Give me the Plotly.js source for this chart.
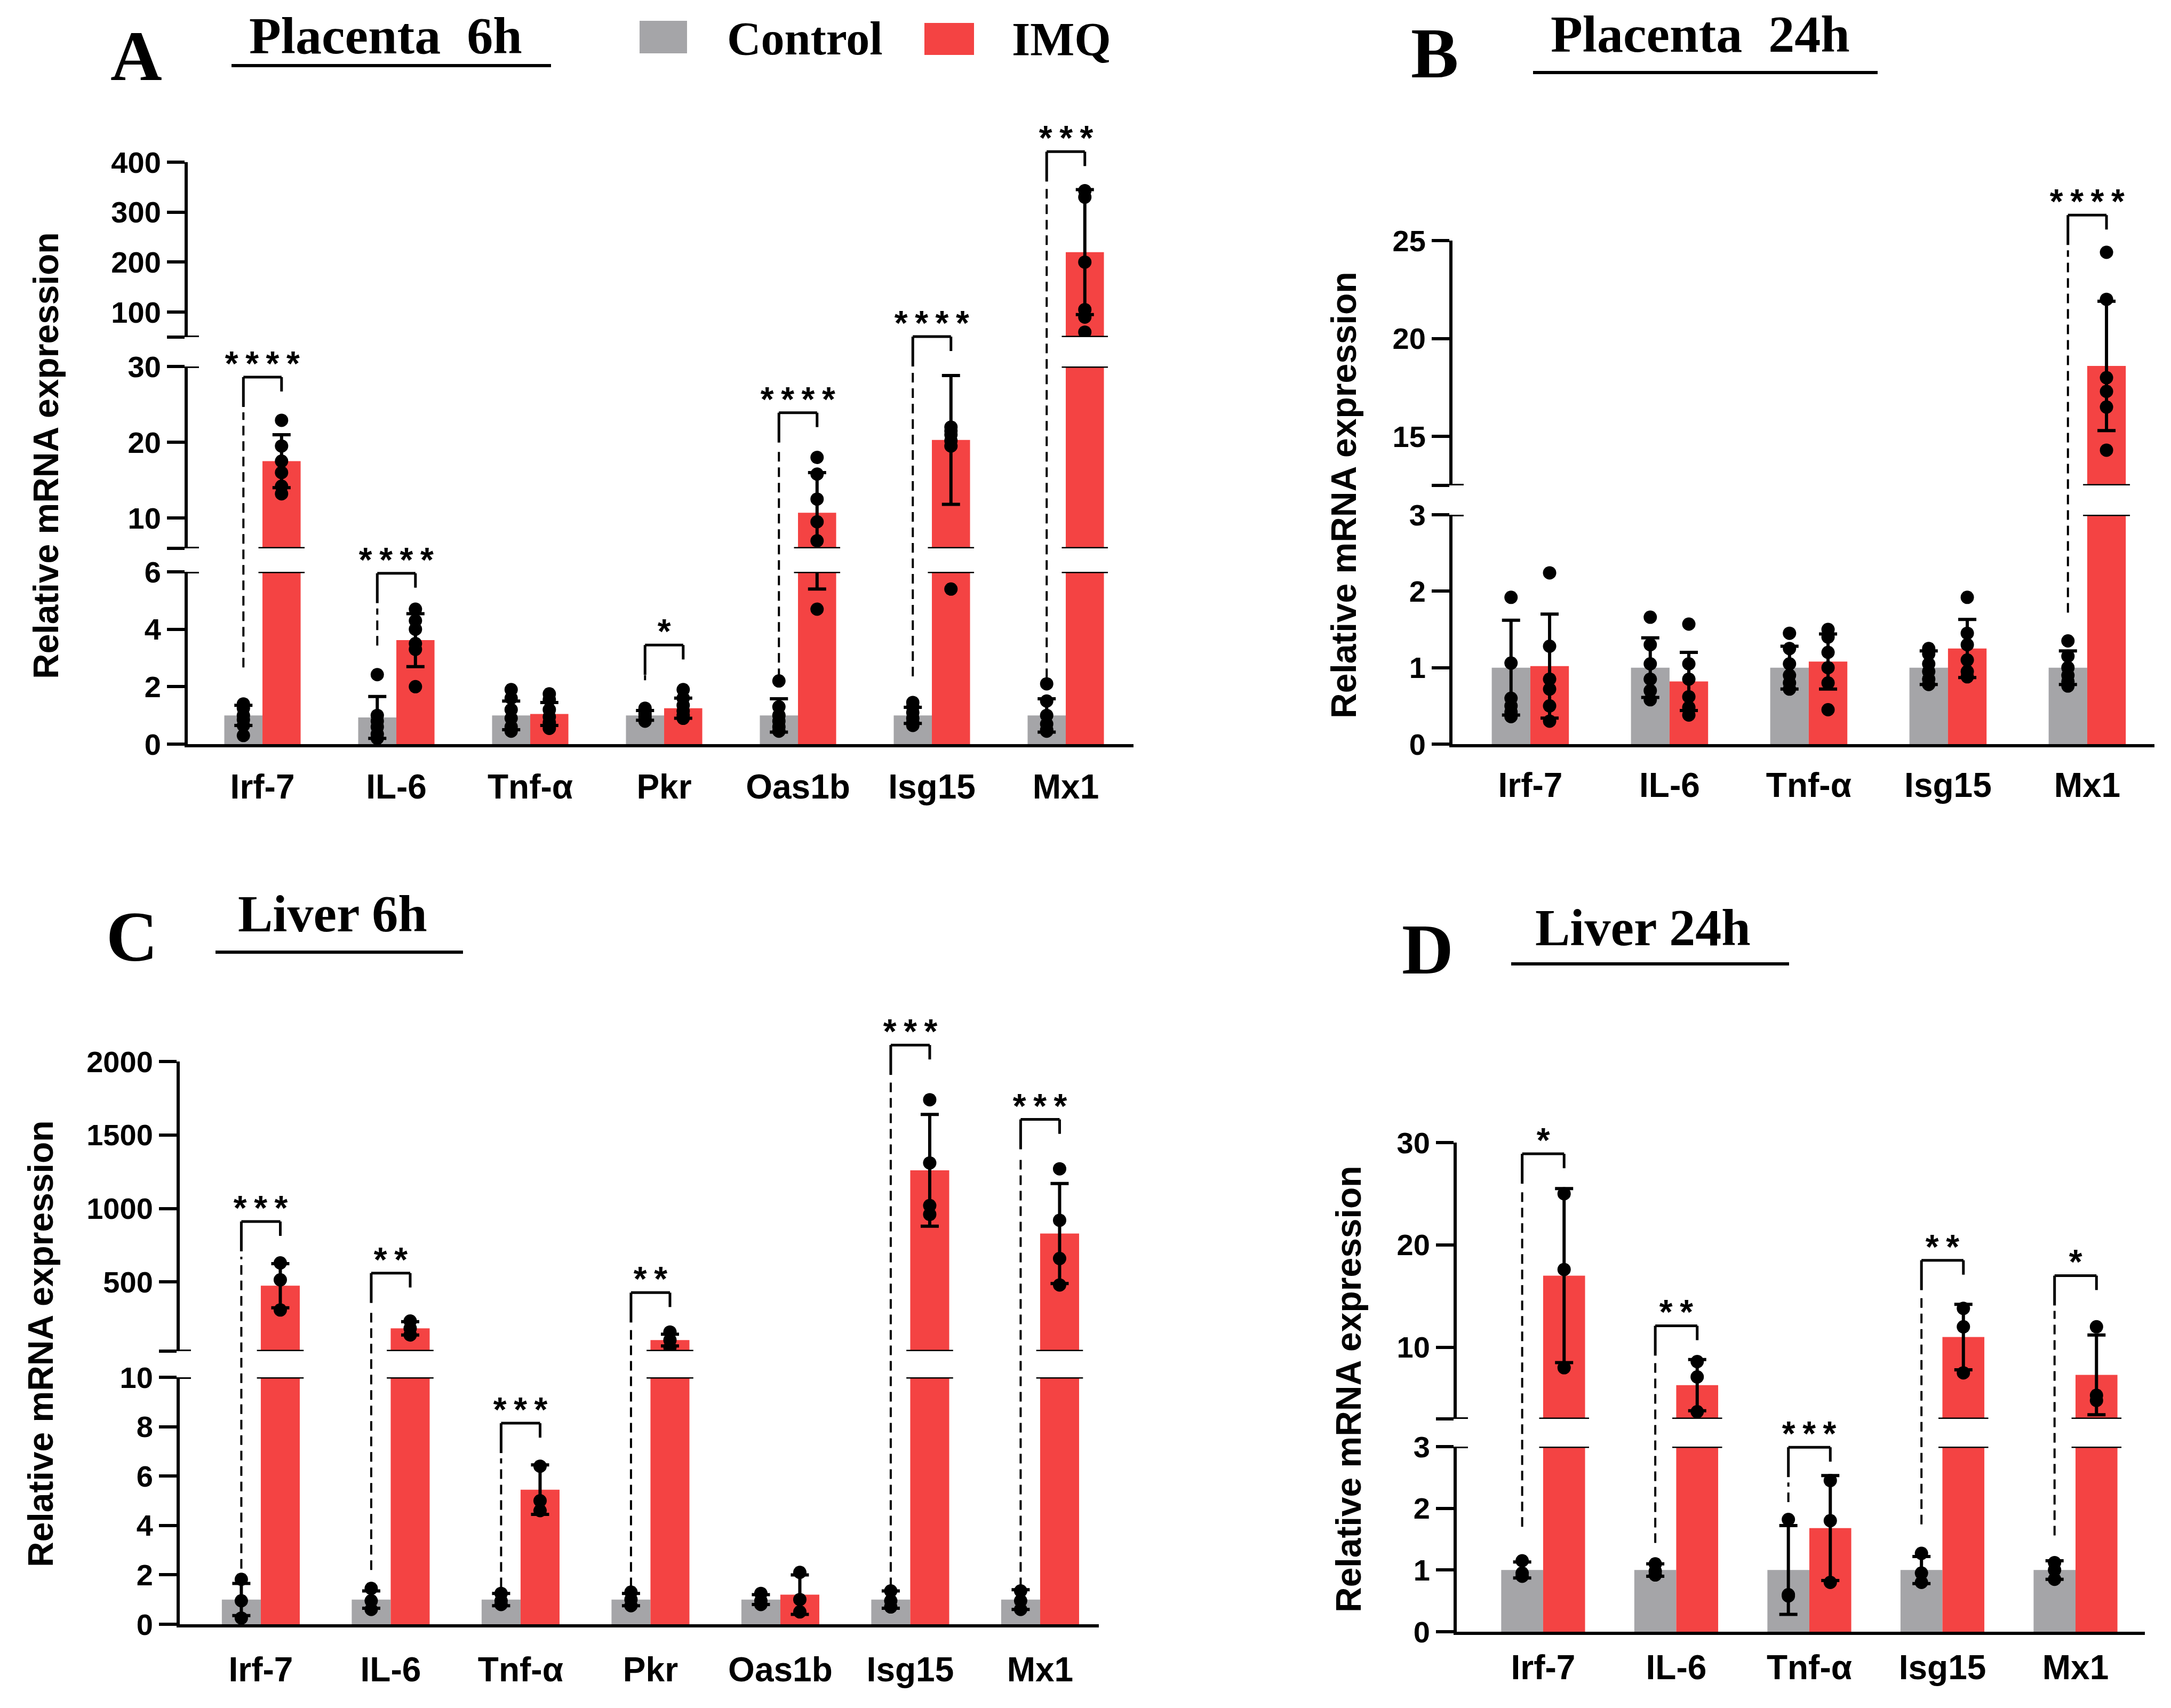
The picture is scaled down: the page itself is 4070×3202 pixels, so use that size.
<!DOCTYPE html>
<html><head><meta charset="utf-8">
<script src="https://cdn.plot.ly/plotly-3.0.1.min.js"></script>
<style>html,body{margin:0;padding:0;background:#fff}</style>
</head><body>
<div id="chart" style="width:4070px;height:3202px"></div>
<script>
// ---------------- DATA ----------------
const catsA = ['Irf-7','IL-6','Tnf-α','Pkr','Oas1b','Isg15','Mx1'];
const catsB = ['Irf-7','IL-6','Tnf-α','Isg15','Mx1'];
const catsC = ['Irf-7','IL-6','Tnf-α','Pkr','Oas1b','Isg15','Mx1'];
const catsD = ['Irf-7','IL-6','Tnf-α','Isg15','Mx1'];

// Panel A: Placenta 6h
const A_ctrlMean = [1.0, 0.93, 1.0, 1.0, 1.0, 1.0, 1.0];
const A_ctrlSD   = [0.35, 0.73, 0.5, 0.17, 0.58, 0.28, 0.58];
const A_ctrlDots = [[1.4,1.25,1.0,0.85,0.65,0.3],[2.42,1.0,0.8,0.6,0.35,0.2],[1.9,1.6,1.2,0.9,0.6,0.45],
                    [1.25,1.15,1.05,0.95,0.85,0.8],[2.2,1.3,1.0,0.8,0.6,0.45],[1.45,1.3,1.1,0.9,0.75,0.65],
                    [2.1,1.5,1.0,0.7,0.5,0.45]];
const A_imqMean  = [17.5, 3.62, 1.05, 1.25, 10.7, 20.3, 220];
const A_imqSD    = [3.5, 0.92, 0.4, 0.35, 5.3, 8.5, 125];
const A_imqDots  = [[22.9,19.5,17.5,16.0,14.2,13.2],[4.7,4.3,4.0,3.5,3.3,2.0],[1.75,1.55,1.2,0.95,0.75,0.55],
                    [1.9,1.6,1.35,1.15,1.0,0.9],[18,15.8,12.5,9.5,7.0,4.7],[22.0,21.5,21.0,20.2,19.5,5.4],
                    [343,330,200,105,90,60]];
const A_sig      = ['****','****','','*','****','****','***'];
const A_level    = [28.6, 5.95, null, 3.45, 23.9, 51, 421];
const A_dashFrom = [2.67, 3.43, null, 2.4, 2.3, 2.36, 2.3];
const A_ticks = [[0,2,4,6],[6,10,20,30],[50,100,200,300,400]];
const A_tickText = [['0','2','4','6'],['','10','20','30'],['','100','200','300','400']];

// Panel B: Placenta 24h
const B_ctrlMean = [1,1,1,1,1];
const B_ctrlSD   = [0.62, 0.39, 0.28, 0.22, 0.22];
const B_ctrlDots = [[1.92,1.06,0.6,0.5,0.42,0.36],[1.66,1.3,1.05,0.85,0.7,0.58],[1.45,1.25,1.05,0.9,0.8,0.72],
                    [1.25,1.18,1.05,0.95,0.85,0.78],[1.35,1.15,1.0,0.9,0.82,0.76]];
const B_imqMean  = [1.02, 0.82, 1.08, 1.25, 18.6];
const B_imqSD    = [0.68, 0.38, 0.36, 0.38, 3.3];
const B_imqDots  = [[2.24,1.28,0.85,0.72,0.5,0.3],[1.57,1.05,0.85,0.62,0.48,0.38],[1.5,1.4,1.2,1.0,0.8,0.45],
                    [1.92,1.45,1.3,1.1,0.95,0.88],[24.4,22.0,18.0,17.3,16.5,14.3]];
const B_sig      = ['','','','','****'];
const B_level    = [null,null,null,null,26.3];
const B_dashFrom = [null,null,null,null,1.72];
const B_ticks = [[0,1,2,3],[12.5,15,20,25]];
const B_tickText = [['0','1','2','3'],['','15','20','25']];

// Panel C: Liver 6h
const C_ctrlMean = [1,1,1,1,1,1,1];
const C_ctrlSD   = [0.65, 0.35, 0.25, 0.25, 0.2, 0.35, 0.4];
const C_ctrlDots = [[1.82,0.95,0.25],[1.45,0.95,0.6],[1.25,0.95,0.8],[1.3,1.0,0.75],[1.25,0.95,0.8],
                    [1.35,0.95,0.7],[1.35,0.95,0.6]];
const C_imqMean  = [475, 185, 5.45, 105, 1.2, 1260, 830];
const C_imqSD    = [150, 45, 1.0, 40, 0.8, 380, 340];
const C_imqDots  = [[630,515,310],[235,185,140],[6.4,5.0,4.6],[160,105,55],[2.1,1.0,0.5],
                    [1740,1310,1020,960],[1270,920,660,480]];
const C_sig      = ['***','**','***','**','','***','***'];
const C_level    = [912, 561, 8.14, 428, null, 2112, 1606];
const C_dashFrom = [2.25, 2.2, 1.5, 1.5, null, 1.5, 1.5];
const C_ticks = [[0,2,4,6,8,10],[30,500,1000,1500,2000]];
const C_tickText = [['0','2','4','6','8','10'],['','500','1000','1500','2000']];

// Panel D: Liver 24h
const D_ctrlMean = [1,1,1,1,1];
const D_ctrlSD   = [0.13, 0.1, 0.72, 0.22, 0.15];
const D_ctrlDots = [[1.15,0.95,0.9],[1.1,0.98,0.92],[1.82,0.58,0.6],[1.27,0.95,0.8],[1.12,1.0,0.85]];
const D_imqMean  = [17, 6.3, 1.68, 11, 7.3];
const D_imqSD    = [8.5, 2.5, 0.85, 3.2, 3.9];
const D_imqDots  = [[25.0,17.6,8.0],[8.6,7.1,3.7],[2.45,1.8,0.8],[13.8,12.0,7.5],[12.0,5.3,4.8]];
const D_sig      = ['*','**','***','**','*'];
const D_level    = [28.9, 12.1, 2.99, 18.5, 17.0];
const D_dashFrom = [1.7, 1.44, 2.1, 1.74, 1.56];
const D_ticks = [[0,1,2,3],[3,10,20,30]];
const D_tickText = [['0','1','2','3'],['','10','20','30']];

// ---------------- LAYOUT / BUILD ----------------
const W = 4070, H = 3202;
const px = x => x / W;
const py = y => 1 - y / H;
const GRAY = '#a5a5a8', RED = '#f44343';
const SANS = 'Arial, "Liberation Sans", sans-serif';
const SERIF = '"Times New Roman", "Liberation Serif", serif';

const panels = [
  {cats:catsA, cm:A_ctrlMean, cs:A_ctrlSD, cd:A_ctrlDots, im:A_imqMean, is:A_imqSD, id:A_imqDots,
   sig:A_sig, level:A_level, dash:A_dashFrom, xpx:[352,2125], xr:[-0.558,6.506], w:0.285, stand:19,
   segs:[{pxr:[1395,1072], r:[0,6]},{pxr:[1028,687], r:[6,30]},{pxr:[632,304], r:[50,400]}],
   ticks:A_ticks, tt:A_tickText},
  {cats:catsB, cm:B_ctrlMean, cs:B_ctrlSD, cd:B_ctrlDots, im:B_imqMean, is:B_imqSD, id:B_imqDots,
   sig:B_sig, level:B_level, dash:B_dashFrom, xpx:[2723,4039], xr:[-0.559,4.483], w:0.277, stand:16,
   segs:[{pxr:[1395,965], r:[0,3]},{pxr:[910,451], r:[12.5,25]}],
   ticks:B_ticks, tt:B_tickText},
  {cats:catsC, cm:C_ctrlMean, cs:C_ctrlSD, cd:C_ctrlDots, im:C_imqMean, is:C_imqSD, id:C_imqDots,
   sig:C_sig, level:C_level, dash:C_dashFrom, xpx:[337,2060], xr:[-0.624,6.452], w:0.30, stand:24,
   segs:[{pxr:[3045,2582], r:[0,10]},{pxr:[2533,1990], r:[30,2000]}],
   ticks:C_ticks, tt:C_tickText},
  {cats:catsD, cm:D_ctrlMean, cs:D_ctrlSD, cd:D_ctrlDots, im:D_imqMean, is:D_imqSD, id:D_imqDots,
   sig:D_sig, level:D_level, dash:D_dashFrom, xpx:[2731,4021], xr:[-0.649,4.521], w:0.315, stand:6,
   segs:[{pxr:[3059,2712], r:[0,3]},{pxr:[2660,2142], r:[3,30]}],
   ticks:D_ticks, tt:D_tickText}
];

const traces = [];
const layout = {
  width: W, height: H, margin:{l:0,r:0,t:0,b:0},
  paper_bgcolor:'#ffffff', plot_bgcolor:'rgba(0,0,0,0)',
  showlegend:false, barmode:'overlay',
  shapes:[], annotations:[]
};

function vToPaper(p, v){
  let best = null, bd = Infinity;
  p.segs.forEach(s => {
    const d = v < s.r[0] ? s.r[0]-v : (v > s.r[1] ? v - s.r[1] : 0);
    if (d < bd) { bd = d; best = s; }
  });
  const d0 = py(best.pxr[0]), d1 = py(best.pxr[1]);
  return d0 + (v - best.r[0]) / (best.r[1] - best.r[0]) * (d1 - d0);
}

let yCount = 0;
panels.forEach((p, pi) => {
  const xName = pi === 0 ? 'x' : 'x' + (pi + 1);
  const xKey = pi === 0 ? 'xaxis' : 'xaxis' + (pi + 1);
  const idx = p.cats.map((c, i) => i);
  const xc = idx.map(i => i - p.w/2);
  const xi = idx.map(i => i + p.w/2);
  const dotX = (arrs, xs) => arrs.flatMap((a, i) => a.map(() => xs[i]));
  // only keep the dots that fall inside this segment's range
  const dotY = (arrs, r) => arrs.flatMap(a => a.map(v => (v >= r[0] && v <= r[1]) ? v : null));
  let firstY = null;
  p.segs.forEach((s, si) => {
    yCount++;
    const yName = yCount === 1 ? 'y' : 'y' + yCount;
    const yKey = yCount === 1 ? 'yaxis' : 'yaxis' + yCount;
    s.yName = yName;
    if (si === 0) firstY = yName;
    layout[yKey] = {
      domain:[py(s.pxr[0]), py(s.pxr[1])], range:s.r, anchor:xName,
      showline:true, linewidth:6, linecolor:'#000', ticks:'outside', ticklen:33, tickwidth:6, tickcolor:'#000',
      tickvals:p.ticks[si], ticktext:p.tt[si], showgrid:false, zeroline:false, fixedrange:true,
      tickfont:{family:SANS, size:56, color:'#000', weight:'bold'}
    };
    const eb = arr => ({type:'data', array:arr, visible:true, color:'#000', thickness:6, width:17});
    traces.push({type:'bar', x:xc, y:p.cm, width:p.w, xaxis:xName, yaxis:yName,
      marker:{color:GRAY, line:{width:0}}, error_y:eb(p.cs)});
    traces.push({type:'bar', x:xi, y:p.im, width:p.w, xaxis:xName, yaxis:yName,
      marker:{color:RED, line:{width:0}}, error_y:eb(p.is)});
    traces.push({type:'scatter', mode:'markers', x:dotX(p.cd, xc), y:dotY(p.cd, s.r), xaxis:xName, yaxis:yName,
      marker:{color:'#000', size:25}, cliponaxis:true});
    traces.push({type:'scatter', mode:'markers', x:dotX(p.id, xi), y:dotY(p.id, s.r), xaxis:xName, yaxis:yName,
      marker:{color:'#000', size:25}, cliponaxis:true});
    // break caps on the y axis
    const ax = p.xpx[0];
    if (si < p.segs.length - 1) {
      layout.shapes.push({type:'line', xref:'paper', yref:yName, x0:px(ax-21), x1:px(ax+21), y0:s.r[1], y1:s.r[1], line:{color:'#000', width:6}});
    }
    if (si > 0) {
      layout.shapes.push({type:'line', xref:'paper', yref:yName, x0:px(ax-21), x1:px(ax+21), y0:s.r[0], y1:s.r[0], line:{color:'#000', width:6}});
    }
  });
  layout[xKey] = {
    domain:[px(p.xpx[0]), px(p.xpx[1])], range:p.xr, anchor:firstY,
    showline:true, linewidth:6, linecolor:'#000', ticks:'', tickvals:idx, ticktext:p.cats,
    showgrid:false, zeroline:false, fixedrange:true, ticklabelstandoff:p.stand,
    tickfont:{family:SANS, size:64, color:'#000', weight:'bold'}
  };
  // break lines across bars that cross a break
  for (let k = 0; k < p.segs.length - 1; k++) {
    const lo = p.segs[k], hi = p.segs[k+1];
    [[xc, p.cm],[xi, p.im]].forEach(([xs, vals]) => {
      vals.forEach((v, i) => {
        if (v > lo.r[1]) {
          const x0 = xs[i] - p.w/2 - 0.03, x1 = xs[i] + p.w/2 + 0.03;
          layout.shapes.push({type:'line', xref:xName, yref:lo.yName, x0, x1, y0:lo.r[1], y1:lo.r[1], line:{color:'#000', width:5}});
          layout.shapes.push({type:'line', xref:xName, yref:hi.yName, x0, x1, y0:hi.r[0], y1:hi.r[0], line:{color:'#000', width:5}});
        }
      });
    });
  }
  // significance brackets
  const tickR = 27 / H, tickL = 56 / H;
  p.sig.forEach((t, i) => {
    if (!t) return;
    const yb = vToPaper(p, p.level[i]);
    const yd = vToPaper(p, p.dash[i]);
    const L = {color:'#000', width:5};
    layout.shapes.push({type:'line', xref:xName, yref:'paper', x0:xc[i], x1:xi[i], y0:yb, y1:yb, line:L});
    layout.shapes.push({type:'line', xref:xName, yref:'paper', x0:xc[i], x1:xc[i], y0:yb, y1:yb - tickL, line:L});
    layout.shapes.push({type:'line', xref:xName, yref:'paper', x0:xi[i], x1:xi[i], y0:yb, y1:yb - tickR, line:L});
    if (yd < yb - tickL) {
      layout.shapes.push({type:'line', xref:xName, yref:'paper', x0:xc[i], x1:xc[i], y0:yd, y1:yb - tickL - 10/H,
        line:{color:'#000', width:4, dash:'18px,11px'}});
    }
    layout.annotations.push({xref:xName, yref:'paper', x:i, y:yb + 18/H, text:t, showarrow:false,
      xanchor:'center', yanchor:'middle', font:{family:'"Liberation Mono", "DejaVu Sans Mono", monospace', size:64, color:'#000', weight:'bold'}});
  });
});

// Y-axis titles
[[86,854],[2519,928],[76,2519],[2528,2604]].forEach(([x,y]) => {
  layout.annotations.push({xref:'paper', yref:'paper', x:px(x), y:py(y), text:'Relative mRNA expression',
    textangle:-90, showarrow:false, xanchor:'center', yanchor:'middle',
    font:{family:SANS, size:66, color:'#000', weight:'bold'}});
});

// Panel letters and titles
const heads = [
  {letter:'A', lpos:[255,105], title:'Placenta  6h', tpos:[723,67], ul:[434,1033,123]},
  {letter:'B', lpos:[2689,100], title:'Placenta  24h', tpos:[3187,64], ul:[2874,3520,136]},
  {letter:'C', lpos:[247,1756], title:'Liver 6h', tpos:[623,1713], ul:[404,868,1785]},
  {letter:'D', lpos:[2676,1780], title:'Liver 24h', tpos:[3080,1739], ul:[2833,3354,1807]}
];
heads.forEach(h => {
  layout.annotations.push({xref:'paper', yref:'paper', x:px(h.lpos[0]), y:py(h.lpos[1]), text:h.letter,
    showarrow:false, xanchor:'center', yanchor:'middle', font:{family:SERIF, size:134, color:'#000', weight:'bold'}});
  layout.annotations.push({xref:'paper', yref:'paper', x:px(h.tpos[0]), y:py(h.tpos[1]), text:h.title.replace('  ', '&nbsp; '),
    showarrow:false, xanchor:'center', yanchor:'middle', font:{family:SERIF, size:98, color:'#000', weight:'bold'}});
  layout.shapes.push({type:'line', xref:'paper', yref:'paper', x0:px(h.ul[0]), x1:px(h.ul[1]), y0:py(h.ul[2]), y1:py(h.ul[2]),
    line:{color:'#000', width:6}});
});

// Legend
layout.shapes.push({type:'rect', xref:'paper', yref:'paper', x0:px(1199), x1:px(1288), y0:py(100), y1:py(39), fillcolor:GRAY, line:{width:0}});
layout.shapes.push({type:'rect', xref:'paper', yref:'paper', x0:px(1733), x1:px(1826), y0:py(103), y1:py(43), fillcolor:RED, line:{width:0}});
layout.annotations.push({xref:'paper', yref:'paper', x:px(1361), y:py(72), text:'Control', showarrow:false,
  xanchor:'left', yanchor:'middle', font:{family:SERIF, size:88, color:'#000', weight:'bold'}});
layout.annotations.push({xref:'paper', yref:'paper', x:px(1895), y:py(73), text:'IMQ', showarrow:false,
  xanchor:'left', yanchor:'middle', font:{family:SERIF, size:88, color:'#000', weight:'bold'}});

Plotly.newPlot('chart', traces, layout, {staticPlot:true, displayModeBar:false});
</script>
</body></html>
